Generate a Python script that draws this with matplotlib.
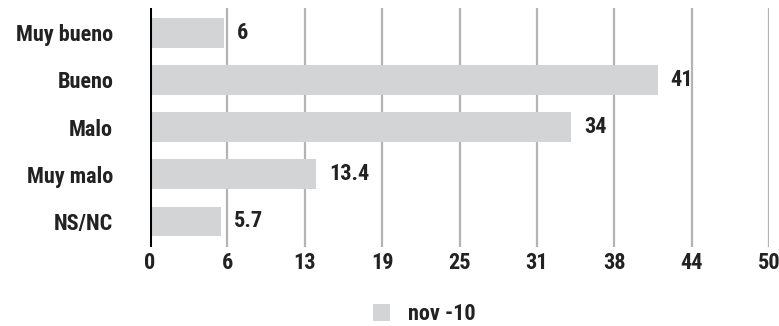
import matplotlib
matplotlib.use("Agg")
import matplotlib.pyplot as plt
from matplotlib import font_manager
from matplotlib.patches import Patch
import numpy as np

categories = ["Muy bueno", "Bueno", "Malo", "Muy malo", "NS/NC"]
values = [6, 41, 34, 13.4, 5.7]
value_labels = ["6", "41", "34", "13.4", "5.7"]
tick_values = [0, 6.25, 12.5, 18.75, 25, 31.25, 37.5, 43.75, 50]
tick_labels = ["0", "6", "13", "19", "25", "31", "38", "44", "50"]
series_name = "nov -10"

available = {f.name for f in font_manager.fontManager.ttflist}
family = [f for f in ["Roboto Condensed", "Liberation Sans Narrow",
                      "DejaVu Sans Condensed", "Liberation Sans", "DejaVu Sans"] if f in available]
plt.rcParams["font.family"] = family

text_color = "#222222"
bar_color = "#d3d4d6"
grid_color = "#b3b3b3"
fs = 16

fig = plt.figure(figsize=(7.79, 3.26), dpi=100)
W, H = 779, 326
ax = fig.add_axes([150 / W, 1 - 247 / H, (769 - 150) / W, (247 - 8) / H])

y = np.arange(len(categories))
ax.barh(y, values, height=0.62, color=bar_color, zorder=3)

ax.set_xlim(0, 50)
ax.set_ylim(len(categories) - 0.45, -0.53)

ax.set_xticks(tick_values)
ax.set_xticklabels(tick_labels)
ax.set_yticks(y)
ax.set_yticklabels(categories)

for spine in ax.spines.values():
    spine.set_visible(False)
ax.axvline(0, color="black", lw=2.2, zorder=4)
for t in tick_values[1:]:
    ax.axvline(t, color=grid_color, lw=1.6, zorder=1)

ax.tick_params(axis="both", length=0, colors=text_color)
ax.tick_params(axis="y", pad=26.5)
ax.tick_params(axis="x", pad=3.5)
for lab in ax.get_xticklabels() + ax.get_yticklabels():
    lab.set_fontsize(fs)
    lab.set_fontweight("bold")
    lab.set_color(text_color)

for yi, v, s in zip(y, values, value_labels):
    ax.annotate(s, (v, yi), xytext=(9.4, 0), textcoords="offset points",
                ha="left", va="center", fontsize=fs, fontweight="bold",
                color=text_color, zorder=5)

handle = Patch(facecolor=bar_color, edgecolor="none")
fig.legend([handle], [series_name], loc="center", bbox_to_anchor=(424 / W, 1 - 314 / H),
           frameon=False, prop={"size": fs, "weight": "bold"},
           handlelength=0.77, handleheight=0.77, handletextpad=0.8,
           borderpad=0.0, labelcolor=text_color)

fig.savefig("out.png", dpi=100)
